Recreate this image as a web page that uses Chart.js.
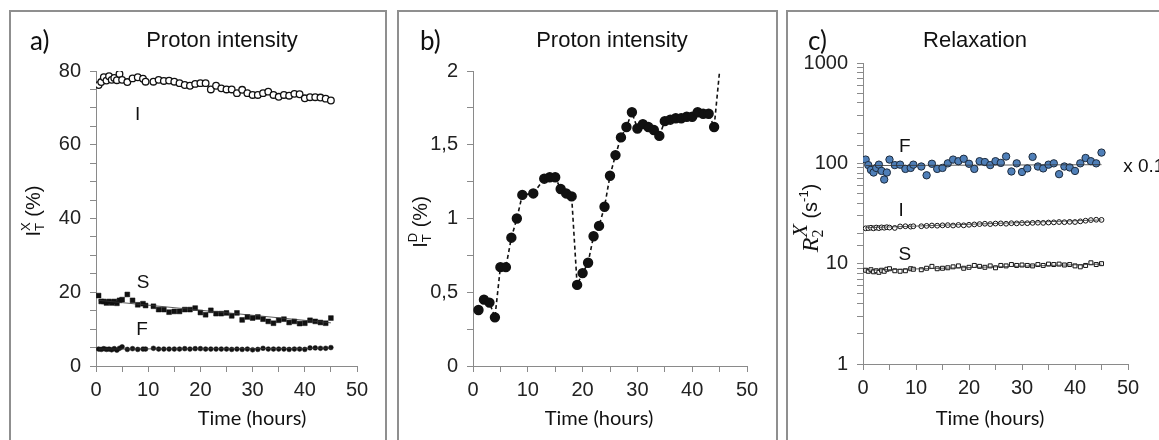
<!DOCTYPE html>
<html>
<head>
<meta charset="utf-8">
<script src="https://cdn.jsdelivr.net/npm/chart.js@4.4.1/dist/chart.umd.min.js"></script>
<style>
  html, body { margin: 0; padding: 0; background: #fff; }
  body { width: 1159px; height: 440px; position: relative; overflow: hidden; }
  .box { position: absolute; top: 10px; height: 460px; border: 2px solid #8f8f8f; box-sizing: border-box; }
  canvas { position: absolute; top: 0; }
</style>
</head>
<body>
<div class="box" style="left:9px; width:378px;"></div>
<div class="box" style="left:397px; width:381px;"></div>
<div class="box" style="left:786px; width:400px;"></div>
<canvas id="panelA" width="377" height="440" style="left:10px"></canvas>
<canvas id="panelB" width="380" height="440" style="left:398px"></canvas>
<canvas id="panelC" width="380" height="440" style="left:787px"></canvas>
<script>
// time axis shared by panels a and c
const hours = [0.5, 1, 1.5, 2, 2.5, 3, 3.5, 4, 4.5, 5, 6, 7, 8, 9, 9.5,
    11, 12, 13, 14, 15, 16, 17, 18, 19, 20, 21, 22, 23, 24, 25, 26, 27, 28, 29, 30,
    31, 32, 33, 34, 35, 36, 37, 38, 39, 40, 41, 42, 43, 44, 45];

// a) proton intensity I_T^X (%)
const intensityI = [76.2, 77.0, 78.3, 77.4, 78.6, 77.6, 78.1, 77.5, 79.2, 77.6, 77.0, 78.0, 78.3, 77.9, 77.1,
    77.1, 77.6, 77.3, 77.4, 77.1, 76.7, 76.2, 76.0, 76.5, 76.7,
    76.7, 75.0, 76.0, 75.3, 75.0, 75.0, 74.0, 74.9, 74.0, 73.5,
    73.5, 74.0, 74.4, 73.5, 73.0, 73.5, 73.3, 73.8, 73.7, 72.6,
    72.9, 72.9, 72.8, 72.5, 72.0];
const intensityS = [19.1, 17.5, 17.5, 17.1, 17.5, 17.1, 17.5, 17.0, 17.8, 18.0, 19.4, 17.8, 16.6, 16.9, 16.4,
    16.2, 15.3, 15.3, 14.6, 14.8, 14.8, 15.3, 15.3, 15.7, 14.5,
    13.9, 15.1, 14.2, 14.2, 14.4, 13.6, 14.4, 12.5, 13.3, 13.0,
    13.3, 12.7, 12.1, 11.6, 12.4, 12.7, 11.8, 12.1, 11.5, 11.6,
    12.4, 12.1, 11.8, 11.6, 13.0];
const intensityF = [4.6, 4.5, 4.7, 4.5, 4.6, 4.4, 4.7, 4.3, 4.8, 5.2, 4.5, 4.7, 4.5, 4.6, 4.6,
    4.8, 4.6, 4.6, 4.6, 4.6, 4.6, 4.7, 4.6, 4.7, 4.7,
    4.6, 4.6, 4.6, 4.6, 4.6, 4.5, 4.6, 4.5, 4.6, 4.4,
    4.5, 4.8, 4.6, 4.6, 4.6, 4.6, 4.5, 4.6, 4.6, 4.5,
    4.9, 4.9, 4.8, 4.8, 5.0];

// b) proton intensity I_T^D (%)
const hoursB = [1, 2, 3, 4, 5, 6, 7, 8, 9, 11, 13, 14, 15, 16, 17, 18, 19, 20, 21, 22, 23, 24, 25,
    26, 27, 28, 29, 30, 31, 32, 33, 34, 35, 36, 37, 38, 39, 40, 41, 42, 43, 44, 45];
const intensityD = [0.38, 0.45, 0.43, 0.33, 0.67, 0.67, 0.87, 1.00, 1.16, 1.17, 1.27, 1.28, 1.28, 1.20, 1.17, 1.15,
    0.55, 0.63, 0.70, 0.88, 0.95, 1.08, 1.29, 1.43, 1.55, 1.62,
    1.72, 1.61, 1.64, 1.62, 1.60, 1.56, 1.66, 1.67, 1.68, 1.68,
    1.69, 1.69, 1.72, 1.71, 1.71, 1.62, 2.0];

// c) relaxation R2^X (s-1), F shown x 0.1
const relaxF = [109, 96, 86, 81, 90, 97, 84, 69, 81, 109, 96, 97, 88, 90, 97,
    93, 76, 99, 88, 90, 100, 109, 105, 111, 99,
    88, 105, 103, 96, 105, 101, 117, 83, 100, 82,
    89, 116, 93, 89, 97, 100, 78, 93, 91, 84,
    100, 113, 105, 100, 128];
const relaxI = [22.5, 22.6, 22.8, 22.5, 22.9, 22.6, 23.0, 22.8, 23.1, 22.9, 22.7, 23.5, 23.6, 23.4, 23.6,
    23.6, 23.8, 24.0, 23.9, 24.1, 24.2, 24.0, 24.3, 24.1, 24.4,
    24.6, 24.8, 25.0, 24.8, 25.1, 25.2, 25.0, 25.3, 25.2, 25.4,
    25.3, 25.5, 25.6, 25.5, 25.7, 25.8, 26.0, 25.9, 26.1, 26.0,
    26.4, 26.8, 27.2, 27.4, 27.3];
const relaxS = [8.6, 8.4, 8.7, 8.3, 8.5, 8.2, 8.6, 8.4, 8.8, 8.9, 8.5, 8.4, 8.5, 8.9, 8.8,
    8.7, 9.0, 9.4, 8.9, 9.0, 9.1, 9.3, 9.5, 9.0, 9.2,
    9.6, 9.4, 9.2, 9.5, 9.1, 9.6, 9.5, 9.8, 9.6, 9.7,
    9.6, 9.5, 9.8, 9.6, 9.9, 9.8, 9.9, 9.7, 9.8, 9.5,
    9.3, 9.6, 10.2, 9.8, 10.0];

// linear fits drawn through the series
const fitHours = [0.5, 45];
const fitSA = [17.8, 11.7];
const fitFA = [4.6, 4.8];
const fitFC = [95, 97];
const fitIC = [22.8, 27.3];
const fitSC = [8.6, 9.9];

const SANS = '"Liberation Sans", Arial, sans-serif';
const SERIF = '"Liberation Serif", "Times New Roman", serif';

function pts(xs, ys) {
    return xs.map(function (x, i) { return { x: x, y: ys[i] }; });
}

const panelText = {
    id: "panelText",
    afterDraw(chart, args, o) {
        const ctx = chart.ctx;
        const xs = chart.scales.x, ys = chart.scales.y;
        ctx.save();
        ctx.fillStyle = "#111";
        ctx.textBaseline = "alphabetic";
        ctx.textAlign = "left";
        ctx.font = "26px Lato";
        ctx.fillText(o.tag, o.tagX, 50);
        ctx.textAlign = "center";
        ctx.font = "22px " + SANS;
        ctx.fillText(o.title, o.titleX, 47);
        ctx.font = "20px Lato";
        ctx.fillText("Time (hours)", o.timeX, 425);

        // annotations in data coordinates
        ctx.textBaseline = "middle";
        ctx.font = "19px " + SANS;
        o.notes.forEach(function (n) {
            ctx.textAlign = n.align || "center";
            ctx.fillText(n.t, xs.getPixelForValue(n.x), ys.getPixelForValue(n.y));
        });

        // rotated y title with sub/superscripts
        ctx.textBaseline = "alphabetic";
        ctx.textAlign = "left";
        ctx.translate(o.yTitleX, o.yTitleY);
        ctx.rotate(-Math.PI / 2);
        let x = 0, prevX = 0;
        const placed = [];
        o.yParts.forEach(function (p) {
            ctx.font = p.font;
            const w = ctx.measureText(p.t).width;
            const px = p.stack ? prevX : x;
            placed.push({ t: p.t, font: p.font, dy: p.dy, x: px });
            if (p.stack) { x = Math.max(x, px + w); } else { prevX = x; x += w; }
        });
        placed.forEach(function (p) {
            ctx.font = p.font;
            ctx.fillText(p.t, p.x - x / 2, 7 + p.dy);
        });
        ctx.restore();
    }
};

function xAxis() {
    return {
        type: "linear", min: 0, max: 50,
        ticks: {
            stepSize: 5, autoSkip: false, maxRotation: 0, color: "#222", padding: 6,
            font: { family: SANS, size: 20 },
            callback: function (v) { return v % 10 === 0 ? String(v) : ""; }
        },
        grid: { drawOnChartArea: false, color: "#8a8a8a", tickLength: 6 },
        border: { color: "#8a8a8a", width: 1 },
        afterFit: function (s) { s.height = 40; }
    };
}

function yTicks(extra) {
    return Object.assign({
        autoSkip: false, color: "#222", padding: 9,
        font: { family: SANS, size: 20 }
    }, extra);
}

const yGrid = { drawOnChartArea: false, color: "#8a8a8a", tickLength: 6 };
const yBorder = { color: "#8a8a8a", width: 1 };

document.addEventListener("DOMContentLoaded", function () {
    const ctx = document.getElementById("panelA").getContext("2d");

    new Chart(ctx, {
        type: "scatter",
        data: {
            datasets: [
                { data: pts(fitHours, fitSA), showLine: true, borderColor: "#333", borderWidth: 0.8, pointRadius: 0 },
                { data: pts(fitHours, fitFA), showLine: true, borderColor: "#333", borderWidth: 0.8, pointRadius: 0 },
                { data: pts(hours, intensityI), pointStyle: "circle", pointRadius: 3.3, backgroundColor: "#fff", borderColor: "#111", borderWidth: 1.3 },
                { data: pts(hours, intensityS), pointStyle: "rect", pointRadius: 3.4, backgroundColor: "#111", borderColor: "#111", borderWidth: 0.5 },
                { data: pts(hours, intensityF), pointStyle: "circle", pointRadius: 2.4, backgroundColor: "#111", borderColor: "#111", borderWidth: 0.5 }
            ]
        },
        options: {
            responsive: false,
            animation: false,
            layout: { padding: { left: 16, right: 30, top: 71, bottom: 34 } },
            plugins: {
                legend: { display: false },
                tooltip: { enabled: false },
                panelText: {
                    tag: "a)", tagX: 20, title: "Proton intensity", titleX: 212, timeX: 242,
                    yTitleX: 23, yTitleY: 211,
                    yParts: [
                        { t: "I", font: "20px " + SANS, dy: 0 },
                        { t: "T", font: "13px " + SANS, dy: 4 },
                        { t: "X", font: "13px " + SANS, dy: -10, stack: true },
                        { t: " (%)", font: "20px " + SANS, dy: 0 }
                    ],
                    notes: [
                        { t: "I", x: 8, y: 68 },
                        { t: "S", x: 9, y: 22.5 },
                        { t: "F", x: 8.8, y: 9.8 }
                    ]
                }
            },
            scales: {
                x: xAxis(),
                y: {
                    type: "linear", min: 0, max: 80,
                    ticks: yTicks({ stepSize: 5, callback: function (v) { return v % 20 === 0 ? String(v) : ""; } }),
                    grid: yGrid, border: yBorder,
                    afterFit: function (s) { s.width = 70; }
                }
            }
        },
        plugins: [panelText]
    });
});

document.addEventListener("DOMContentLoaded", function () {
    const ctx = document.getElementById("panelB").getContext("2d");

    new Chart(ctx, {
        type: "scatter",
        data: {
            datasets: [
                {
                    data: pts(hoursB, intensityD),
                    showLine: true,
                    borderColor: "#111",
                    borderWidth: 1.6,
                    borderDash: [4, 3],
                    pointStyle: "circle",
                    pointRadius: hoursB.map(function (h, i) { return i === hoursB.length - 1 ? 0 : 4.4; }),
                    backgroundColor: "#111",
                    pointBorderColor: "#111"
                }
            ]
        },
        options: {
            responsive: false,
            animation: false,
            layout: { padding: { left: 5, right: 31, top: 71, bottom: 34 } },
            plugins: {
                legend: { display: false },
                tooltip: { enabled: false },
                panelText: {
                    tag: "b)", tagX: 22, title: "Proton intensity", titleX: 214, timeX: 201,
                    yTitleX: 22, yTitleY: 222,
                    yParts: [
                        { t: "I", font: "20px " + SANS, dy: 0 },
                        { t: "T", font: "13px " + SANS, dy: 4 },
                        { t: "D", font: "13px " + SANS, dy: -10, stack: true },
                        { t: " (%)", font: "20px " + SANS, dy: 0 }
                    ],
                    notes: []
                }
            },
            scales: {
                x: xAxis(),
                y: {
                    type: "linear", min: 0, max: 2,
                    ticks: yTicks({
                        stepSize: 0.25,
                        callback: function (v) {
                            return Math.round(v * 100) % 50 === 0 ? String(v).replace(".", ",") : "";
                        }
                    }),
                    grid: yGrid, border: yBorder,
                    afterFit: function (s) { s.width = 70; }
                }
            }
        },
        plugins: [panelText]
    });
});

document.addEventListener("DOMContentLoaded", function () {
    const ctx = document.getElementById("panelC").getContext("2d");

    new Chart(ctx, {
        type: "scatter",
        data: {
            datasets: [
                { data: pts(fitHours, fitFC), showLine: true, borderColor: "#333", borderWidth: 0.8, pointRadius: 0 },
                { data: pts(fitHours, fitIC), showLine: true, borderColor: "#333", borderWidth: 0.8, pointRadius: 0 },
                { data: pts(fitHours, fitSC), showLine: true, borderColor: "#333", borderWidth: 0.8, pointRadius: 0 },
                { data: pts(hours, relaxF), pointStyle: "circle", pointRadius: 3.7, backgroundColor: "#4f7fb8", borderColor: "#1c2a3c", borderWidth: 1 },
                { data: pts(hours, relaxI), pointStyle: "circle", pointRadius: 2.4, backgroundColor: "#fff", borderColor: "#111", borderWidth: 1 },
                { data: pts(hours, relaxS), pointStyle: "rect", pointRadius: 2.8, backgroundColor: "#fff", borderColor: "#111", borderWidth: 1 }
            ]
        },
        options: {
            responsive: false,
            animation: false,
            layout: { padding: { left: 6, right: 39, top: 63, bottom: 36 } },
            plugins: {
                legend: { display: false },
                tooltip: { enabled: false },
                panelText: {
                    tag: "c)", tagX: 21, title: "Relaxation", titleX: 188, timeX: 203,
                    yTitleX: 24, yTitleY: 218,
                    yParts: [
                        { t: "R", font: "italic 24px " + SERIF, dy: 0 },
                        { t: "2", font: "16px " + SERIF, dy: 5 },
                        { t: "X", font: "italic 22px " + SERIF, dy: -11, stack: true },
                        { t: " (s", font: "20px " + SANS, dy: -1 },
                        { t: "-1", font: "13px " + SANS, dy: -10 },
                        { t: ")", font: "20px " + SANS, dy: -1 }
                    ],
                    notes: [
                        { t: "F", x: 7.9, y: 146 },
                        { t: "I", x: 7.2, y: 34 },
                        { t: "S", x: 7.9, y: 12.2 },
                        { t: "x 0.1", x: 49.1, y: 92, align: "left" }
                    ]
                }
            },
            scales: {
                x: xAxis(),
                y: {
                    type: "logarithmic", min: 1, max: 1000,
                    ticks: yTicks({
                        callback: function (v) {
                            const e = Math.log10(v);
                            return Math.abs(e - Math.round(e)) < 1e-9 ? String(Math.round(v)) : "";
                        }
                    }),
                    grid: yGrid, border: yBorder,
                    afterFit: function (s) { s.width = 70; }
                }
            }
        },
        plugins: [panelText]
    });
});
</script>
</body>
</html>
